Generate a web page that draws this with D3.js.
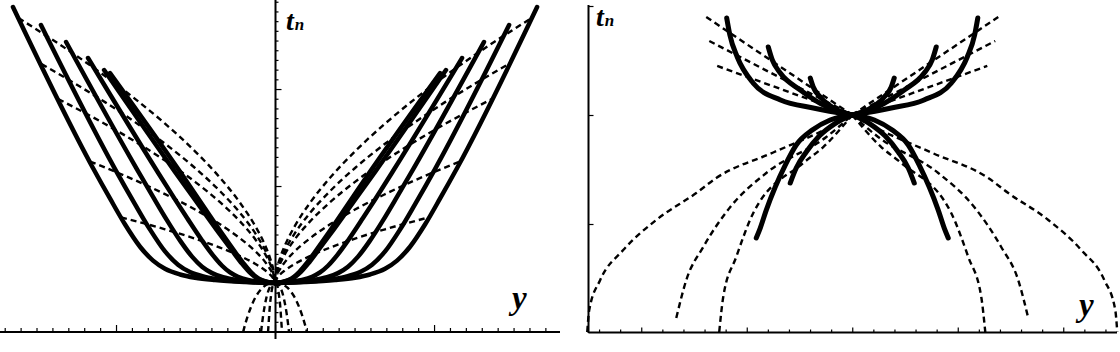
<!DOCTYPE html>
<html><head><meta charset="utf-8">
<script src="https://cdn.jsdelivr.net/npm/d3@7"></script>
<style>html,body{margin:0;padding:0;background:#fff;}svg{display:block;}</style>
</head><body>
<svg id="c" width="1120" height="352"></svg>
<script>
// ---------- LEFT PANEL DATA (right branch; left branch is its mirror image) ----------
const leftSolidY = [
  [0,0.189,0.377,0.503,0.597,0.692,0.767,0.849,0.943,1.038,1.145,1.648],
  [0,0.157,0.314,0.440,0.535,0.610,0.692,0.786,0.881,1.006,1.472],
  [0,0.126,0.239,0.327,0.396,0.459,0.522,0.597,0.679,0.767,0.868,1.314],
  [0,0.094,0.170,0.233,0.283,0.333,0.390,0.459,0.553,0.629,0.742,1.176],
  [0,0.050,0.088,0.126,0.164,0.208,0.264,0.346,0.472,0.629,1.075],
  [0,0.048,0.084,0.119,0.155,0.197,0.251,0.329,0.448,0.597,1.038]
];
const leftSolidT = [
  [0,0.011,0.031,0.055,0.088,0.147,0.231,0.374,0.603,0.872,1.186,2.845],
  [0,0.011,0.031,0.064,0.113,0.189,0.326,0.551,0.814,1.175,2.660],
  [0,0.011,0.031,0.060,0.102,0.168,0.272,0.437,0.646,0.888,1.172,2.485],
  [0,0.013,0.033,0.065,0.109,0.178,0.285,0.439,0.670,0.862,1.155,2.320],
  [0,0.012,0.030,0.064,0.118,0.200,0.320,0.500,0.787,1.146,2.196],
  [0,0.012,0.030,0.064,0.118,0.200,0.320,0.500,0.787,1.146,2.165]
];
const leftDashY = [
  [0,0.0126,0.0314,0.0629,0.1258,0.2201,0.3459,0.5031,0.6918,0.8805,1.0692,1.2579,1.4465,1.6132],
  [0,0.0126,0.0314,0.0629,0.1258,0.2201,0.3459,0.5031,0.6918,0.8805,1.0692,1.2579,1.4686],
  [0,0.0126,0.0314,0.0629,0.1258,0.2201,0.3459,0.5031,0.6918,0.8805,1.0692,1.2579,1.3635],
  [0,0.0126,0.0314,0.0629,0.1258,0.2201,0.3459,0.5031,0.6918,0.8805,1.1635],
  [0,0.0126,0.0314,0.0629,0.1258,0.2201,0.3459,0.5031,0.6918,0.9686],
  [0,0.040,0.080,0.121,0.151,0.171,0.185,0.201],
  [0,0.018,0.035,0.053,0.066,0.075,0.081,0.088],
  [0,0.009,0.018,0.026,0.033,0.037,0.040,0.044]
];
const leftDashT = [
  [0,0.148,0.258,0.390,0.591,0.827,1.085,1.358,1.643,1.899,2.135,2.353,2.558,2.732],
  [0,0.130,0.225,0.340,0.516,0.723,0.947,1.186,1.436,1.659,1.865,2.056,2.257],
  [0,0.114,0.198,0.300,0.454,0.635,0.833,1.043,1.263,1.459,1.640,1.807,1.897],
  [0,0.082,0.143,0.218,0.330,0.461,0.605,0.758,0.916,1.060,1.253],
  [0,0.050,0.087,0.131,0.199,0.278,0.365,0.458,0.554,0.677],
  [0,-0.009,-0.051,-0.141,-0.246,-0.336,-0.410,-0.505],
  [0,-0.009,-0.051,-0.141,-0.246,-0.336,-0.410,-0.505],
  [0,-0.009,-0.051,-0.141,-0.246,-0.336,-0.410,-0.505]
];
const leftXTicks = d3.range(-17, 18).map(i => i / 10);
const leftXMajor = [-1, 0, 1];
const leftTTicks = d3.range(-4, 30).map(i => i / 10);
const leftTMajor = [0, 1, 2];

// ---------- RIGHT PANEL DATA (right branch; left branch is its mirror image) ----------
const rightSolidY = [
  [0,0.370,0.680,0.940,1.090,1.160,1.190],
  [0,0.237,0.493,0.682,0.758,0.796],
  [0,0.142,0.303,0.370,0.398],
  [0,0.209,0.379,0.531,0.635,0.730,0.815,0.872,0.910],
  [0,0.171,0.313,0.436,0.531,0.588]
];
const rightSolidT = [
  [2,2.064,2.138,2.294,2.532,2.734,2.890],
  [2,2.073,2.229,2.385,2.505,2.624],
  [2,2.046,2.165,2.257,2.339],
  [2,1.954,1.862,1.725,1.541,1.339,1.128,0.963,0.872],
  [2,1.917,1.807,1.661,1.514,1.376]
];
const rightDashY = [
  [0,1.384],
  [0,1.355],
  [0,1.280],
  [0,0.209,0.749,1.289,1.479,1.858,2.171,2.389,2.493,2.512],
  [0,0.246,0.815,1.156,1.412,1.573,1.668],
  [0,0.275,0.464,0.938,1.100,1.223,1.261]
];
const rightDashT = [
  [2,2.899],
  [2,2.679],
  [2,2.450],
  [2,1.890,1.656,1.422,1.284,1.037,0.761,0.486,0.211,0.009],
  [2,1.798,1.468,1.156,0.789,0.486,0.138],
  [2,1.706,1.560,1.101,0.697,0.330,0.009]
];
const rightXTicks = d3.range(-12, 13).map(i => i / 5);
const rightXMajor = [-2, -1, 0, 1, 2];
const rightTTicks = [1, 2, 3];

// ---------- DRAWING ----------
const svg = d3.select("#c");
svg.append("rect").attr("width",1120).attr("height",352).attr("fill","#fff");

function branches(Y, T) {
  const right = Y.map((y, i) => [y, T[i]]);
  const left = Y.map((y, i) => [-y, T[i]]).reverse();
  return [left, right];
}

function panel(opt) {
  const g = svg.append("g");
  const x = d3.scaleLinear().domain(opt.xDomain).range(opt.xRange);
  const t = d3.scaleLinear().domain(opt.tDomain).range(opt.tRange);
  const line = d3.line().x(d => x(d[0])).y(d => t(d[1])).curve(d3.curveMonotoneX);
  const lineLin = d3.line().x(d => x(d[0])).y(d => t(d[1]));

  // x axis (ticks pointing up)
  const ax = g.append("g").attr("transform", `translate(0,${opt.xAxisY})`);
  ax.call(d3.axisBottom(x).tickValues(opt.xTicks.filter(v => !opt.xMajor.includes(v)))
      .tickSizeInner(-opt.minorLen).tickSizeOuter(0).tickFormat(""));
  ax.append("g").call(d3.axisBottom(x).tickValues(opt.xMajor)
      .tickSizeInner(-opt.majorLen).tickSizeOuter(0).tickFormat(""))
    .select(".domain").remove();
  ax.selectAll(".domain").attr("d", `M${opt.xLine[0]},0H${opt.xLine[1]}`).attr("stroke-width", 2).attr("stroke","#000");
  ax.selectAll(".tick line").attr("stroke", "#000").attr("stroke-width", 1.2);

  // t axis (ticks pointing right)
  const ay = g.append("g").attr("transform", `translate(${opt.yAxisX},0)`);
  ay.call(d3.axisLeft(t).tickValues(opt.tTicks.filter(v => !opt.tMajor.includes(v)))
      .tickSizeInner(-opt.tMinorLen).tickSizeOuter(0).tickFormat(""));
  ay.append("g").call(d3.axisLeft(t).tickValues(opt.tMajor)
      .tickSizeInner(-opt.tMajorLen).tickSizeOuter(0).tickFormat(""))
    .select(".domain").remove();
  ay.selectAll(".domain").attr("d", `M0,${opt.yLine[0]}V${opt.yLine[1]}`).attr("stroke-width", 2).attr("stroke","#000");
  ay.selectAll(".tick line").attr("stroke", "#000").attr("stroke-width", 1.2);

  // dashed curves
  opt.dashY.forEach((Y, k) => {
    branches(Y, opt.dashT[k]).forEach(b => {
      g.append("path").attr("d", (Y.length > 2 ? line : lineLin)(b))
        .attr("fill", "none").attr("stroke", "#000").attr("stroke-width", 2.4)
        .attr("stroke-dasharray", "6,4");
    });
  });
  // solid curves
  opt.solidY.forEach((Y, k) => {
    branches(Y, opt.solidT[k]).forEach(b => {
      g.append("path").attr("d", line(b))
        .attr("fill", "none").attr("stroke", "#000").attr("stroke-width", opt.solidW)
        .attr("stroke-linecap", "round");
    });
  });

  // labels
  const tl = g.append("text").attr("x", opt.tLabel[0]).attr("y", opt.tLabel[1])
    .attr("font-family", "'Liberation Serif','Times New Roman',serif")
    .attr("font-style", "italic").attr("font-weight", "bold");
  tl.append("tspan").attr("font-size", 28).text("t");
  tl.append("tspan").attr("font-size", 17).attr("dx", 1).text("n");
  g.append("text").attr("x", opt.yLabel[0]).attr("y", opt.yLabel[1])
    .attr("font-family", "'Liberation Serif','Times New Roman',serif")
    .attr("font-style", "italic").attr("font-weight", "bold").attr("font-size", 33).text("y");
}

panel({
  xDomain: [-1.7296, 1.792], xRange: [0, 560],
  tDomain: [-0.505, 2.918], tRange: [332, 0],
  xAxisY: 332, yAxisX: 275.5,
  xLine: [0, 560], yLine: [0, 339],
  xTicks: leftXTicks, xMajor: leftXMajor, minorLen: 4, majorLen: 7,
  tTicks: leftTTicks, tMajor: leftTMajor, tMinorLen: 3, tMajorLen: 6,
  solidY: leftSolidY, solidT: leftSolidT, dashY: leftDashY, dashT: leftDashT,
  solidW: 4.5,
  tLabel: [286, 30], yLabel: [512, 309]
});

panel({
  xDomain: [-2.5, 2.5], xRange: [588.5, 1116],
  tDomain: [0, 3], tRange: [333, 6],
  xAxisY: 332.5, yAxisX: 588.5,
  xLine: [588.5, 1117], yLine: [5, 333],
  xTicks: rightXTicks, xMajor: rightXMajor, minorLen: 3, majorLen: 5,
  tTicks: rightTTicks, tMajor: [], tMinorLen: 5, tMajorLen: 5,
  solidY: rightSolidY, solidT: rightSolidT, dashY: rightDashY, dashT: rightDashT,
  solidW: 5,
  tLabel: [596, 26], yLabel: [1079, 316]
});
</script>
</body></html>
